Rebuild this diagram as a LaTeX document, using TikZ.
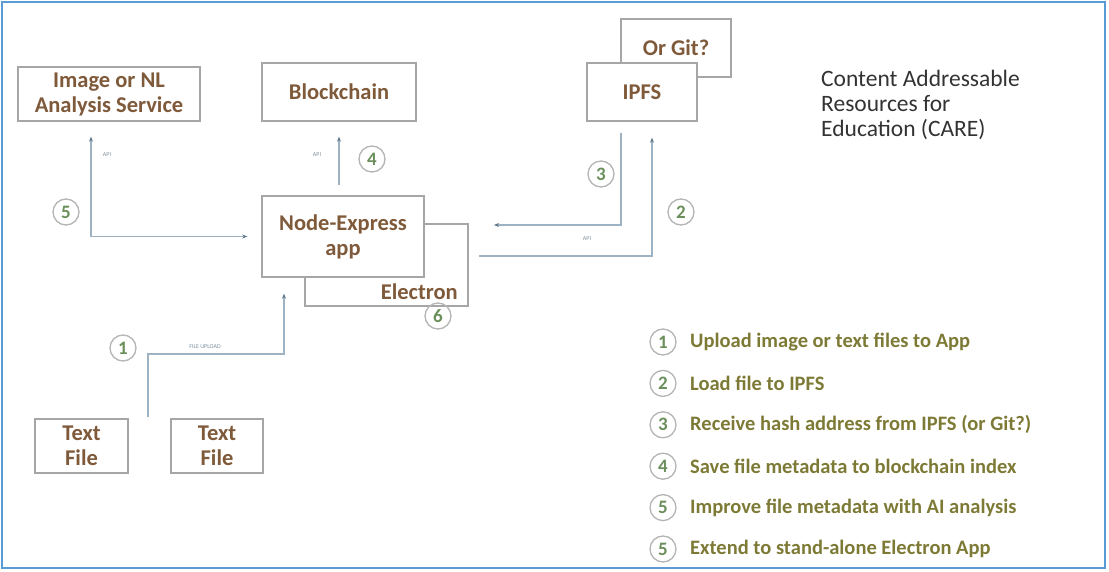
\documentclass[tikz,border=0pt]{standalone}
\usepackage{fontspec}
\setmainfont{Carlito}
\usetikzlibrary{arrows.meta, positioning, calc}
\definecolor{boxline}{HTML}{A6A6A6}
\definecolor{boxtext}{HTML}{7F5A3A}
\definecolor{legtext}{HTML}{7D7A36}
\definecolor{numtext}{HTML}{6B8F5A}
\definecolor{numline}{HTML}{B4B4B4}
\definecolor{wire}{HTML}{9DB2C2}
\definecolor{tip}{HTML}{5E7687}
\definecolor{frameblue}{HTML}{5B9BD5}
\tikzset{
  boxfont/.style={text=boxtext, font=\fontsize{22.5}{25}\selectfont\bfseries},
  box/.style={draw=boxline, line width=1.4pt, fill=white, boxfont, align=center, inner sep=0pt},
  num/.style={circle, draw=numline, line width=1.3pt, minimum size=26pt, inner sep=0pt, text=numtext, font=\fontsize{19}{19}\selectfont\bfseries},
  conn/.style={draw=wire, line width=1.4pt, -{Stealth[length=5pt, width=4pt, color=tip]}},
  tiny/.style={text=tip!80, font=\fontsize{6}{6}\selectfont, inner sep=0pt},
  legend/.style={anchor=west, text=legtext, font=\fontsize{20.5}{20.5}\selectfont\bfseries, inner sep=0pt}
}
\begin{document}
\begin{tikzpicture}[x=1pt, y=-1pt]
    \useasboundingbox (0,0) rectangle (1109,572);
    \draw[frameblue, line width=2pt] (2,2) rectangle (1105,568);

    % Boxes
    \node[box, minimum width=182pt, minimum height=54pt] (ana) at (109,94) {Image or NL\\Analysis Service};
    \node[box, minimum width=154pt, minimum height=58pt] (chain) at (339,92) {Blockchain};
    \node[box, minimum width=110pt, minimum height=58pt] (git) at (676,48) {Or Git?};
    \node[box, minimum width=110pt, minimum height=58pt] (ipfs) at (642,92) {IPFS};
    \node[box, minimum width=163pt, minimum height=82pt] (electron) at (386.5,265) {};
    \node[boxfont, anchor=base east, inner sep=0pt] (electronlbl) at (458,299) {Electron};
    \node[box, minimum width=162pt, minimum height=81pt] (app) at (343,236.5) {Node-Express\\app};
    \node[box, minimum width=93pt, minimum height=54pt] (fileA) at (81.5,446) {Text\\File};
    \node[box, minimum width=92pt, minimum height=54pt] (fileB) at (217,446) {Text\\File};

    % Free ends
    \coordinate (upload) at (148,417);
    \coordinate (ret) at (494,225);
    \coordinate (send) at (479,256);

    % Connectors
    \draw[conn, shorten <=10pt, shorten >=15pt] (chain.south |- app.north) -- (chain.south);
    \draw[conn, {Stealth[length=5pt, width=4pt, color=tip]}-{Stealth[length=5pt, width=4pt, color=tip]}, shorten <=15pt, shorten >=14pt] ([xshift=-18pt]ana.south) |- (app.west);
    \draw[conn, shorten <=11pt] ([xshift=-21pt]ipfs.south) |- (ret);
    \draw[conn, shorten >=16pt] (send) -| ([xshift=10pt]ipfs.south);
    \draw[conn, shorten >=16pt] (upload) |- ++(136,-63) -- ([xshift=-59pt]app.south);

    % Connector labels
    \node[tiny] (apiA) at (107,155) {API};
    \node[tiny] (apiB) at (317,155) {API};
    \node[tiny] (apiC) at (587,239) {API};
    \node[tiny] (uplbl) at (205,347) {FILE UPLOAD};

    % Step numbers
    \node[num] (n1) at (123,348) {1};
    \node[num] (n2) at (681,212) {2};
    \node[num] (n3) at (601,174) {3};
    \node[num] (n4) at (372,159) {4};
    \node[num] (n5) at (66,212) {5};
    \node[num] (n6) at (438,316) {6};

    % Title
    \node[anchor=west, align=left, text=black!80, font=\fontsize{23.5}{25}\selectfont, inner sep=0pt] (title) at (821,105) {Content Addressable\\Resources for\\Education (CARE)};

    % Legend
    \foreach \i/\n/\txt in {0/1/Upload image or text files to App, 1/2/Load file to IPFS, 2/3/Receive hash address from IPFS (or Git?), 3/4/Save file metadata to blockchain index, 4/5/Improve file metadata with AI analysis, 5/5/Extend to stand-alone Electron App}{
        \node[num] (key\i) at (663,342+41.4*\i) {\n};
        \node[legend] (keytxt\i) at (690,342+41.4*\i) {\txt};
    }
\end{tikzpicture}
\end{document}
